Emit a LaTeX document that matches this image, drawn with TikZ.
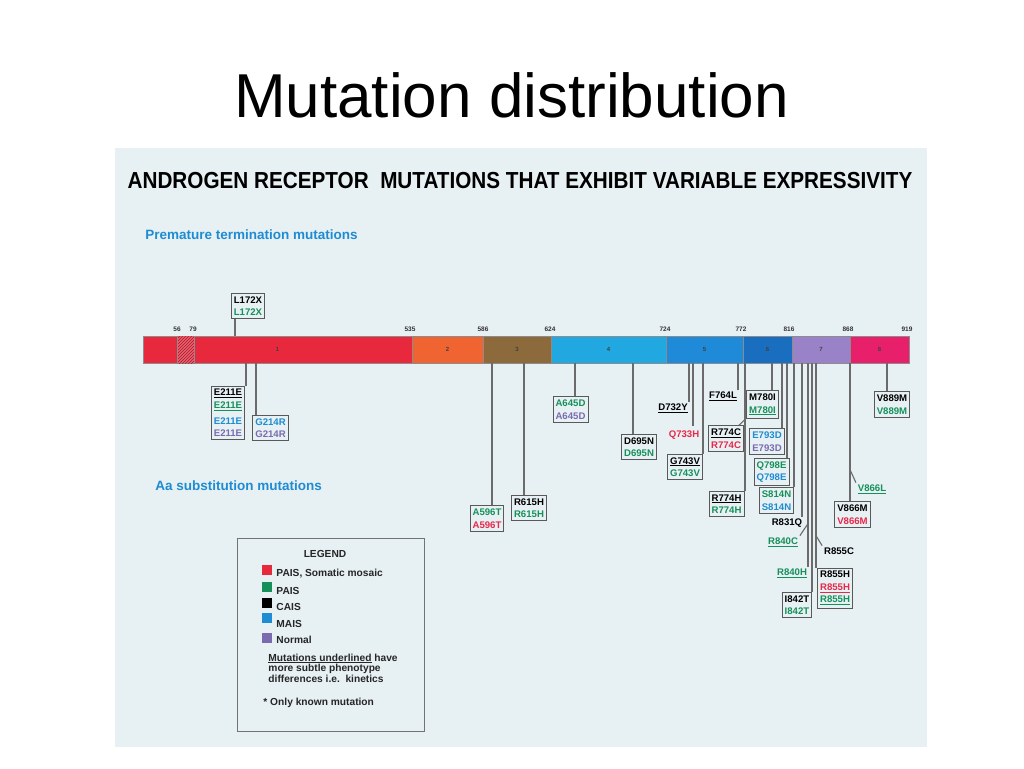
\documentclass[tikz,border=0pt]{standalone}
\usepackage{fontspec}
\setmainfont{Liberation Sans}
\usetikzlibrary{patterns}
\definecolor{paism}{HTML}{E8284A}
\definecolor{pais}{HTML}{16905A}
\definecolor{mais}{HTML}{1E8CD2}
\definecolor{normal}{HTML}{7A6AB0}
\definecolor{panel}{HTML}{E7F0F3}
\definecolor{dom1}{HTML}{E8283C}
\definecolor{dom2}{HTML}{EF6430}
\definecolor{dom3}{HTML}{8C6A3C}
\definecolor{dom4}{HTML}{22A8E0}
\definecolor{dom5}{HTML}{1E8AD8}
\definecolor{dom6}{HTML}{1A6EC0}
\definecolor{dom7}{HTML}{9A82C8}
\definecolor{dom8}{HTML}{E8206C}
\begin{document}
\begin{tikzpicture}
[x=1pt, y=-1pt, line width=0.9pt,
exon/.style={rectangle, draw=black!45, line width=0.6pt, inner sep=0pt, minimum height=27pt, font=\fontsize{6}{6}\selectfont\bfseries, text=black!75},
posnum/.style={inner sep=0pt, font=\fontsize{6.5}{6.5}\selectfont\bfseries, text=black!80},
mutbox/.style={rectangle, draw=black!65, line width=0.9pt, inner xsep=2.5pt, inner ysep=3pt, align=center, font=\fontsize{9.6}{12.6}\selectfont\bfseries},
muttext/.style={inner sep=1.5pt, font=\fontsize{9.6}{12.6}\selectfont\bfseries},
conn/.style={draw=black!58, line width=1.1pt},
swatch/.style={rectangle, inner sep=0pt, minimum size=9.5pt},
legtext/.style={anchor=west, inner sep=0pt, font=\fontsize{10.2}{10.5}\selectfont\bfseries, text=black!85},
heading/.style={inner sep=0pt, font=\fontsize{13.5}{14}\selectfont\bfseries, text=mais}]

\useasboundingbox (0,0) rectangle (1024,768);
\fill[white] (0,0) rectangle (1024,768);
\fill[panel] (115,148) rectangle (927,747);

\node[anchor=base, inner sep=0pt, font=\fontsize{62}{62}\selectfont] (title) at (511.5,117) {Mutation distribution};
\node[inner sep=0pt, font=\fontsize{20.7}{22}\selectfont\bfseries] (header) at (520,181) {\scalebox{1}[1.12]{ANDROGEN RECEPTOR\ \ MUTATIONS THAT EXHIBIT VARIABLE EXPRESSIVITY}};
\node[heading, anchor=west] (premature) at (145,235) {Premature termination mutations};
\node[heading, anchor=west] (substitution) at (155,486) {Aa substitution mutations};

\node[exon, fill=dom1, minimum width=269pt] (d1) at (277.5,349.5) {1};
\node[exon, fill=dom2, minimum width=71pt] (d2) at (447.5,349.5) {2};
\node[exon, fill=dom3, minimum width=68pt] (d3) at (517,349.5) {3};
\node[exon, fill=dom4, minimum width=115pt] (d4) at (608.5,349.5) {4};
\node[exon, fill=dom5, minimum width=77pt] (d5) at (704.5,349.5) {5};
\node[exon, fill=dom6, minimum width=49pt] (d6) at (767.5,349.5) {6};
\node[exon, fill=dom7, minimum width=58pt] (d7) at (821,349.5) {7};
\node[exon, fill=dom8, minimum width=59pt] (d8) at (879.5,349.5) {8};
\fill[dom1!75!white] (177,336) rectangle (194,363);
\fill[pattern=north east lines, pattern color=dom1!70!black] (177,336) rectangle (194,363);
\draw[black!45, line width=0.6pt] (177,336) -- (177,363) (194,336) -- (194,363);

\node[posnum] (n56) at (177,329) {56};
\node[posnum] (n79) at (193,329) {79};
\node[posnum] (n535) at (410,329) {535};
\node[posnum] (n586) at (483,329) {586};
\node[posnum] (n624) at (550,329) {624};
\node[posnum] (n724) at (665,329) {724};
\node[posnum] (n772) at (741,329) {772};
\node[posnum] (n816) at (789,329) {816};
\node[posnum] (n868) at (848,329) {868};
\node[posnum] (n919) at (907,329) {919};

\node[mutbox] (m172) at (248,306) {L172X\\\color{pais}L172X};
\node[mutbox] (m211) at (228,413) {\underline{E211E}\\\color{pais}\underline{E211E}\\[3pt]\color{mais}E211E\\\color{normal}E211E};
\node[mutbox] (m214) at (270.5,428) {\color{mais}G214R\\\color{normal}G214R};
\node[mutbox] (m596) at (487,518.5) {\color{pais}A596T\\\color{paism}A596T};
\node[mutbox] (m615) at (529,508) {R615H\\\color{pais}R615H};
\node[mutbox] (m645) at (570.5,409.5) {\color{pais}A645D\\\color{normal}A645D};
\node[mutbox] (m695) at (639,447) {D695N\\\color{pais}D695N};
\node[muttext] (m732) at (673,408) {\underline{D732Y}};
\node[muttext, text=paism] (m733) at (684,435) {Q733H};
\node[mutbox] (m743) at (685,467) {\underline{G743V}\\\color{pais}G743V};
\node[muttext] (m764) at (723,396) {\underline{F764L}};
\node[mutbox] (m780) at (762.5,404.5) {M780I\\\color{pais}\underline{M780I}};
\node[mutbox] (m774c) at (726,438.5) {\underline{R774C}\\\color{paism}R774C};
\node[mutbox] (m774h) at (726.5,504) {\underline{R774H}\\\color{pais}R774H};
\node[mutbox] (m793) at (767,441.5) {\color{mais}E793D\\\color{normal}E793D};
\node[mutbox] (m798) at (771.5,472) {\color{pais}Q798E\\\color{mais}Q798E};
\node[mutbox] (m814) at (776.5,500.5) {\color{pais}S814N\\\color{mais}S814N};
\node[muttext] (m831) at (787,523) {R831Q};
\node[muttext, text=pais] (m840c) at (783,542) {\underline{R840C}};
\node[muttext, text=pais] (m840h) at (792,573) {\underline{R840H}};
\node[mutbox] (m842) at (797,605) {I842T\\\color{pais}I842T};
\node[muttext] (m855c) at (839,551) {R855C};
\node[mutbox] (m855h) at (835,588) {R855H\\\color{paism}\underline{R855H}\\\color{pais}\underline{R855H}};
\node[muttext, text=pais] (m866l) at (872,489) {\underline{V866L}};
\node[mutbox] (m866m) at (852.5,514.5) {V866M\\\color{paism}V866M};
\node[mutbox] (m889) at (892,404.5) {V889M\\\color{pais}V889M};

\coordinate (p172) at (235,336);
\coordinate (p211) at (246,363);
\coordinate (p214) at (256,363);
\coordinate (p596) at (492,363);
\coordinate (p615) at (524,363);
\coordinate (p645) at (575,363);
\coordinate (p695) at (633,363);
\coordinate (p732) at (689,363);
\coordinate (p733) at (693,363);
\coordinate (p743) at (703,363);
\coordinate (p764) at (738,363);
\coordinate (p774) at (745,363);
\coordinate (p780) at (772,363);
\coordinate (p793) at (782,363);
\coordinate (p798) at (787,363);
\coordinate (p814) at (794,363);
\coordinate (p831) at (802,363);
\coordinate (p840) at (808,363);
\coordinate (p842) at (812,363);
\coordinate (p855) at (816,363);
\coordinate (p866) at (850,363);
\coordinate (p889) at (887,363);

\draw[conn] (p172) -- (p172 |- m172.south);
\draw[conn] (p211) -- (p211 |- m211.north);
\draw[conn] (p214) -- (p214 |- m214.north);
\draw[conn] (p596) -- (p596 |- m596.north);
\draw[conn] (p615) -- (p615 |- m615.north);
\draw[conn] (p645) -- (p645 |- m645.north);
\draw[conn] (p695) -- (p695 |- m695.north);
\draw[conn] (p732) -- (p732 |- m732.north) -- (m732.north east);
\draw[conn] (p733) -- ([yshift=3pt]p733 |- m733.north);
\draw[conn] (p743) -- (p743 |- m743.north);
\draw[conn] (p764) -- (p764 |- m764.north);
\draw[conn] (p774) -- (p774 |- m774h.north);
\draw[conn] ([yshift=6pt]p774 |- m774c.north) -- ([xshift=-5pt]m774c.north east);
\draw[conn] (p780) -- (p780 |- m780.north);
\draw[conn] (p793) -- (p793 |- m793.north);
\draw[conn] (p798) -- (p798 |- m798.north);
\draw[conn] (p814) -- (p814 |- m814.north);
\draw[conn] (p831) -- (p831 |- m831.north east);
\draw[conn] (p840) -- (p840 |- m840h.north);
\draw[conn] ([yshift=12pt]p840 |- m840c.north) -- (m840c.north east);
\draw[conn] (p842) -- (p842 |- m842.north);
\draw[conn] (p855) -- (p855 |- m855h.north);
\draw[conn] ([yshift=10pt]p855 |- m855c.north) -- (m855c.north west);
\draw[conn] (p866) -- (p866 |- m866m.north);
\draw[conn] ([yshift=13pt]p866 |- m866l.north) -- (m866l.north west);
\draw[conn] (p889) -- (p889 |- m889.north);

\node[rectangle, draw=black!55, line width=0.9pt, minimum width=187pt, minimum height=193pt, inner sep=0pt] (legend) at (330.5,634.5) {};
\node[inner sep=0pt, font=\fontsize{10.2}{10.5}\selectfont\bfseries, text=black!85] (legtitle) at (325,554) {LEGEND};
\node[swatch, fill=dom1] (s1) at (267,570) {};
\node[swatch, fill=pais] (s2) at (267,587) {};
\node[swatch, fill=black] (s3) at (267,603) {};
\node[swatch, fill=mais] (s4) at (267,618) {};
\node[swatch, fill=normal] (s5) at (267,638) {};
\node[legtext] (t1) at (276,574) {PAIS, Somatic mosaic};
\node[legtext] (t2) at (276,591) {PAIS};
\node[legtext] (t3) at (276,607) {CAIS};
\node[legtext] (t4) at (276,624) {MAIS};
\node[legtext] (t5) at (276,640) {Normal};
\node[legtext, align=left] (note) at (268,668) {\underline{Mutations underlined} have\\more subtle phenotype\\differences i.e.\ \ kinetics};
\node[legtext] (only) at (263,703) {* Only known mutation};
\end{tikzpicture}
\end{document}
